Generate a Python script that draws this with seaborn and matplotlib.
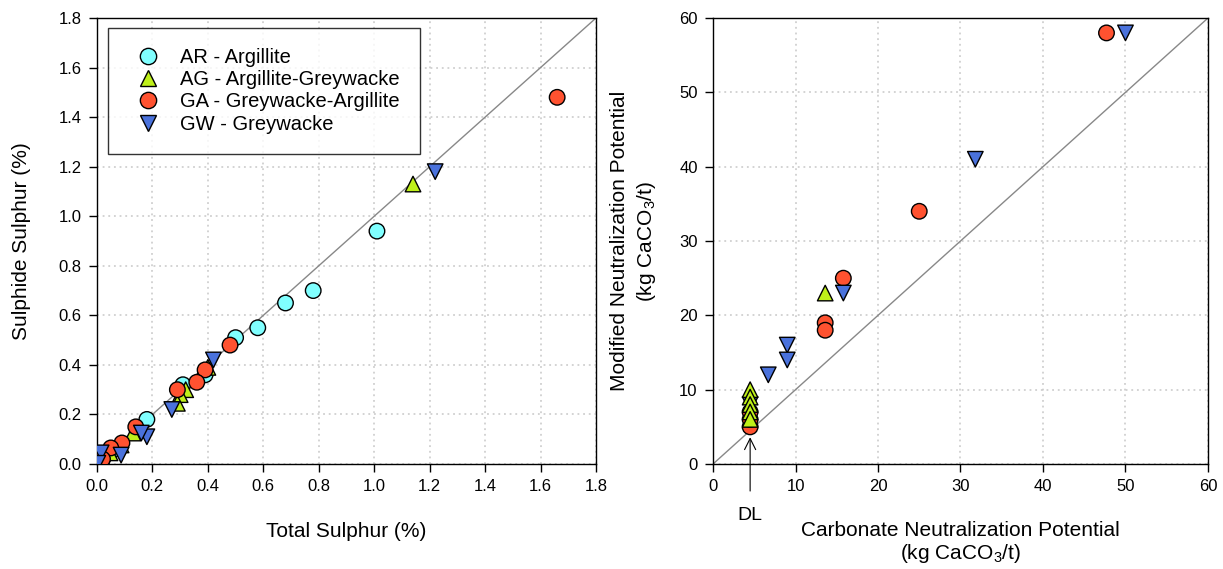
import matplotlib
matplotlib.use('Agg')
import matplotlib.pyplot as plt
import pandas as pd
import seaborn as sns

# left panel: total sulphur vs sulphide sulphur (%)
ar_total = [1.01, 0.78, 0.68, 0.58, 0.50, 0.31, 0.39, 0.18, 0.05, 0.02]
ar_sulph = [0.94, 0.70, 0.65, 0.55, 0.51, 0.32, 0.36, 0.18, 0.05, 0.02]
ag_total = [1.14, 0.40, 0.32, 0.30, 0.29, 0.13, 0.087, 0.047, 0.02, 0.01]
ag_sulph = [1.13, 0.39, 0.30, 0.28, 0.245, 0.125, 0.077, 0.045, 0.01, 0.005]
ga_total = [1.66, 0.48, 0.39, 0.36, 0.29, 0.14, 0.09, 0.05, 0.02]
ga_sulph = [1.48, 0.48, 0.38, 0.33, 0.30, 0.15, 0.085, 0.065, 0.02]
gw_total = [1.22, 0.42, 0.27, 0.18, 0.16, 0.087, 0.015, 0.003]
gw_sulph = [1.18, 0.42, 0.22, 0.11, 0.125, 0.036, 0.045, 0.003]

# right panel: carbonate NP vs modified NP (kg CaCO3/t)
ag_cnp = [13.6, 4.5, 4.5, 4.5, 4.5, 4.5]
ag_mnp = [23, 10, 9, 8, 7, 6]
ga_cnp = [47.7, 25, 15.8, 13.6, 13.6, 4.5, 4.5, 4.5]
ga_mnp = [58, 34, 25, 19, 18, 5, 6, 7]
gw_cnp = [50, 31.8, 15.8, 9, 9, 6.7, 4.5]
gw_mnp = [58, 41, 23, 16, 14, 12, 8]

labels = ['AR - Argillite', 'AG - Argillite-Greywacke',
          'GA - Greywacke-Argillite', 'GW - Greywacke']
colors = ['#80FFFF', '#BFF01A', '#FF5230', '#4A72DC']
markers = ['o', '^', 'o', 'v']

left = pd.concat([
    pd.DataFrame({'x': ar_total, 'y': ar_sulph, 'rock': labels[0]}),
    pd.DataFrame({'x': ag_total, 'y': ag_sulph, 'rock': labels[1]}),
    pd.DataFrame({'x': ga_total, 'y': ga_sulph, 'rock': labels[2]}),
    pd.DataFrame({'x': gw_total, 'y': gw_sulph, 'rock': labels[3]}),
])
# circles first so the triangles at the DL sit on top
right = pd.concat([
    pd.DataFrame({'x': ga_cnp, 'y': ga_mnp, 'rock': labels[2]}),
    pd.DataFrame({'x': gw_cnp, 'y': gw_mnp, 'rock': labels[3]}),
    pd.DataFrame({'x': ag_cnp, 'y': ag_mnp, 'rock': labels[1]}),
])

sns.set_style('white')
plt.rcParams['font.family'] = ['Liberation Sans', 'DejaVu Sans']
plt.rcParams['mathtext.fontset'] = 'custom'
plt.rcParams['mathtext.rm'] = 'Liberation Sans'
for key in ['text.color', 'axes.labelcolor', 'xtick.color', 'ytick.color']:
    plt.rcParams[key] = 'black'

pal = dict(zip(labels, colors))
mk = dict(zip(labels, markers))

fig = plt.figure(figsize=(12.23, 5.69), dpi=100)
ax1 = fig.add_axes([0.0793, 0.1845, 0.408, 0.7838])
ax2 = fig.add_axes([0.583, 0.1845, 0.4047, 0.7838])

for ax in (ax1, ax2):
    ax.grid(True, color='#c8c8c8', linestyle=(0, (1.2, 2.5)), linewidth=1.1)
    ax.set_axisbelow(True)
    for s in ax.spines.values():
        s.set_color('black')
        s.set_linewidth(1)
    ax.tick_params(direction='out', length=6, width=1, labelsize=12, pad=5,
                   bottom=True, left=True, color='black')

ax1.plot([0, 1.8], [0, 1.8], color='#888888', lw=1, zorder=1)
sns.scatterplot(data=left, x='x', y='y', hue='rock', style='rock',
                palette=pal, markers=mk, hue_order=labels, style_order=labels,
                s=125, edgecolor='black', linewidth=1, ax=ax1, zorder=3)
ax1.set_xlim(0, 1.8)
ax1.set_ylim(0, 1.8)
ax1.set_xticks([0, 0.2, 0.4, 0.6, 0.8, 1.0, 1.2, 1.4, 1.6, 1.8])
ax1.set_yticks([0, 0.2, 0.4, 0.6, 0.8, 1.0, 1.2, 1.4, 1.6, 1.8])
ax1.xaxis.set_major_formatter(matplotlib.ticker.FormatStrFormatter('%.1f'))
ax1.yaxis.set_major_formatter(matplotlib.ticker.FormatStrFormatter('%.1f'))
ax1.set_xlabel('Total Sulphur (%)', fontsize=15, labelpad=20)
ax1.set_ylabel('Sulphide Sulphur (%)', fontsize=15, labelpad=20)
leg = ax1.legend(loc='upper left', bbox_to_anchor=(0.022, 0.978), fontsize=14.5,
                 frameon=True, fancybox=False, edgecolor='black',
                 borderpad=1.0, handletextpad=0.6, labelspacing=0.16,
                 borderaxespad=0, markerscale=1.05)
leg.get_frame().set_linewidth(1)

ax2.plot([0, 60], [0, 60], color='#888888', lw=1, zorder=1)
sns.scatterplot(data=right, x='x', y='y', hue='rock', style='rock',
                palette=pal, markers=mk, hue_order=labels[1:], style_order=labels[1:],
                s=125, edgecolor='black', linewidth=1, ax=ax2, zorder=3,
                legend=False)
ax2.set_xlim(0, 60)
ax2.set_ylim(0, 60)
ax2.set_xticks(range(0, 61, 10))
ax2.set_yticks(range(0, 61, 10))
ax2.set_xlabel('Carbonate Neutralization Potential\n(kg CaCO$_3$/t)',
               fontsize=15, labelpad=19, linespacing=1.12)
ax2.set_ylabel('Modified Neutralization Potential\n(kg CaCO$_3$/t)',
               fontsize=15, labelpad=15, linespacing=1.38)
ax2.annotate('DL', xy=(4.5, 3.6), xytext=(4.5, -6.9), ha='center', va='center',
             fontsize=14, annotation_clip=False,
             arrowprops=dict(arrowstyle='->', color='black', lw=0.8,
                             shrinkA=9, shrinkB=0, mutation_scale=20))

fig.savefig('out.png', dpi=100)
